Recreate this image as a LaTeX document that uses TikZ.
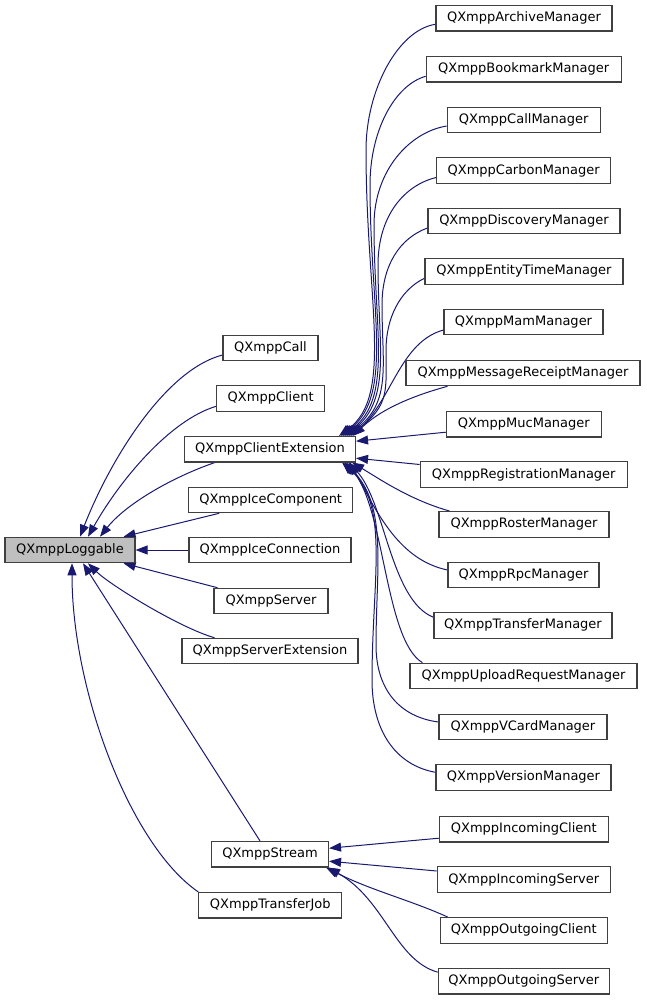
\documentclass[tikz,border=0pt]{standalone}
\usepackage{fontspec}
\setmainfont{DejaVu Sans}
\usetikzlibrary{arrows.meta}
\pgfdeclarelayer{bg}
\pgfsetlayers{bg,main}
\definecolor{navy}{HTML}{191970}
\begin{document}
\begin{tikzpicture}[x=1pt,y=-1pt,
  cls/.style={draw=black!75, line width=1.1pt, fill=white, minimum height=25.5pt, inner sep=0pt,
    font=\fontsize{13}{15}\selectfont, text=black},
  basecls/.style={cls, fill=black!25},
  edge/.style={draw=navy, line width=1pt, -{Triangle[length=12pt,width=9pt]}}]
\useasboundingbox (0,0) rectangle (647,1000);
% base
\node[basecls, minimum width=130pt] (log) at (70,550) {QXmppLoggable};
% middle column
\node[cls, minimum width=95pt] (call) at (270.5,348) {QXmppCall};
\node[cls, minimum width=108pt] (client) at (270.7,398.3) {QXmppClient};
\node[cls, minimum width=171pt] (ext) at (270,449.2) {QXmppClientExtension};
\node[cls, minimum width=164pt] (icecomp) at (270.7,500) {QXmppIceComponent};
\node[cls, minimum width=162pt] (icecon) at (270,550) {QXmppIceConnection};
\node[cls, minimum width=114pt] (server) at (271,601) {QXmppServer};
\node[cls, minimum width=176pt] (serverext) at (270,651) {QXmppServerExtension};
\node[cls, minimum width=117pt] (stream) at (270,854.2) {QXmppStream};
\node[cls, minimum width=143pt] (tjob) at (270.3,905.2) {QXmppTransferJob};
% right column
\node[cls, minimum width=176pt] (archive) at (524,18.3) {QXmppArchiveManager};
\node[cls, minimum width=195pt] (bookmark) at (523.7,69.3) {QXmppBookmarkManager};
\node[cls, minimum width=153pt] (callmgr) at (523.7,120) {QXmppCallManager};
\node[cls, minimum width=174pt] (carbon) at (523.7,170.5) {QXmppCarbonManager};
\node[cls, minimum width=192pt] (disco) at (524,221) {QXmppDiscoveryManager};
\node[cls, minimum width=198pt] (etime) at (524,271.3) {QXmppEntityTimeManager};
\node[cls, minimum width=159pt] (mam) at (523.5,322) {QXmppMamManager};
\node[cls, minimum width=234pt] (receipt) at (523,373) {QXmppMessageReceiptManager};
\node[cls, minimum width=155pt] (muc) at (523.8,424.2) {QXmppMucManager};
\node[cls, minimum width=207pt] (reg) at (523.7,474.5) {QXmppRegistrationManager};
\node[cls, minimum width=170pt] (roster) at (524,524.3) {QXmppRosterManager};
\node[cls, minimum width=151pt] (rpc) at (523.5,575) {QXmppRpcManager};
\node[cls, minimum width=178pt] (transfer) at (523,625.3) {QXmppTransferManager};
\node[cls, minimum width=227pt] (upload) at (523.5,676) {QXmppUploadRequestManager};
\node[cls, minimum width=168pt] (vcard) at (523,727) {QXmppVCardManager};
\node[cls, minimum width=175pt] (version) at (523.5,777.3) {QXmppVersionManager};
\node[cls, minimum width=169pt] (inclient) at (523.8,829.2) {QXmppIncomingClient};
\node[cls, minimum width=173pt] (inserver) at (523.7,879.5) {QXmppIncomingServer};
\node[cls, minimum width=167pt] (outclient) at (523.7,930.3) {QXmppOutgoingClient};
\node[cls, minimum width=171pt] (outserver) at (523.8,981.2) {QXmppOutgoingServer};

\begin{pgfonlayer}{bg}
% to QXmppLoggable
\draw[edge] ([yshift=-7pt]call.west) .. controls (165,370) and (110,460) .. ([xshift=10pt]log.north);
\draw[edge] ([yshift=-8pt]client.west) .. controls (170,420) and (120,480) .. ([xshift=18pt]log.north);
\draw[edge] ([xshift=31pt]ext.south west) .. controls (170,478) and (125,505) .. ([xshift=30pt]log.north);
\draw[edge] ([xshift=31pt]icecomp.south west) -- ([xshift=-12pt]log.north east);
\draw[edge] (icecon.west) -- (log.east);
\draw[edge] ([xshift=4pt]server.north west) -- ([xshift=-12pt]log.south east);
\draw[edge] ([xshift=33pt]serverext.north west) .. controls (180,628) and (110,585) .. ([xshift=18pt]log.south);
\draw[edge] ([xshift=-10pt]stream.north) -- ([xshift=13pt]log.south);
\draw[edge] (tjob.north west) .. controls (130,845) and (72,690) .. ([xshift=2pt]log.south);
% to QXmppClientExtension (top)
\draw[edge] ([yshift=-6pt]archive.west) .. controls (398,30) and (366,90) .. (366,150)
  .. controls (366,300) and (394,395) .. ([xshift=-17pt]ext.north east);
\draw[edge] ([yshift=-7pt]bookmark.west) .. controls (395,85) and (370,130) .. (370,185)
  .. controls (370,310) and (394,395) .. ([xshift=-15pt]ext.north east);
\draw[edge] ([yshift=-6pt]callmgr.west) .. controls (410,132) and (374,170) .. (374,225)
  .. controls (374,330) and (393,398) .. ([xshift=-13pt]ext.north east);
\draw[edge] ([yshift=-7pt]carbon.west) .. controls (405,185) and (378,215) .. (378,265)
  .. controls (378,345) and (392,400) .. ([xshift=-11pt]ext.north east);
\draw[edge] ([yshift=-7pt]disco.west) .. controls (400,238) and (382,265) .. (382,305)
  .. controls (382,365) and (392,402) .. ([xshift=-9pt]ext.north east);
\draw[edge] ([yshift=-7pt]etime.west) .. controls (400,290) and (386,318) .. (386,350)
  .. controls (386,390) and (390,405) .. ([xshift=-7pt]ext.north east);
\draw[edge] ([yshift=-8pt]mam.west) .. controls (400,342) and (392,400) .. ([xshift=-5pt]ext.north east);
\draw[edge] ([xshift=42pt]receipt.south west) .. controls (405,398) and (378,412) .. ([xshift=-3pt]ext.north east);
% to QXmppClientExtension (side)
\draw[edge] ([yshift=-8pt]muc.west) -- ([yshift=8pt]ext.east);
\draw[edge] ([yshift=10pt]reg.west) -- ([yshift=-9pt]ext.east);
% to QXmppClientExtension (bottom)
\draw[edge] ([xshift=11pt]roster.north west) .. controls (410,500) and (378,478) .. ([xshift=-4pt]ext.south east);
\draw[edge] ([yshift=5pt]rpc.west) .. controls (400,560) and (378,515) .. ([xshift=-6pt]ext.south east);
\draw[edge] ([yshift=8pt]transfer.west) .. controls (390,600) and (385,500) .. ([xshift=-8pt]ext.south east);
\draw[edge] ([xshift=13pt]upload.north west) .. controls (385,640) and (385,510) .. ([xshift=-10pt]ext.south east);
\draw[edge] ([yshift=5pt]vcard.west) .. controls (400,717) and (376,690) .. (376,645)
  .. controls (376,570) and (388,505) .. ([xshift=-12pt]ext.south east);
\draw[edge] ([yshift=5pt]version.west) .. controls (395,765) and (372,730) .. (372,680)
  .. controls (372,580) and (390,505) .. ([xshift=-14pt]ext.south east);
% to QXmppStream
\draw[edge] ([yshift=-9pt]inclient.west) -- ([yshift=6pt]stream.east);
\draw[edge] ([yshift=8.5pt]inserver.west) -- ([yshift=-7pt]stream.east);
\draw[edge] ([xshift=8pt]outclient.north west) .. controls (410,900) and (370,890) .. ([xshift=-3pt]stream.south east);
\draw[edge] ([yshift=9pt]outserver.west) .. controls (395,960) and (385,900) .. ([xshift=-1pt]stream.south east);
\end{pgfonlayer}
\end{tikzpicture}
\end{document}
